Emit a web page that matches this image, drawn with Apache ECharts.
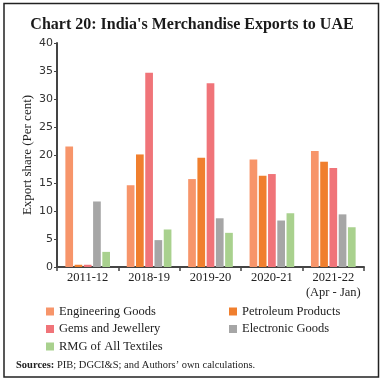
<!DOCTYPE html>
<html><head><meta charset="utf-8">
<script src="https://cdn.jsdelivr.net/npm/echarts@6/dist/echarts.min.js"></script>
<style>html,body{margin:0;padding:0;background:#fff}#c{width:384px;height:382px}</style>
</head><body><div id="c"></div>
<script>
const categories = ['2011-12', '2018-19', '2019-20', '2020-21', '2021-22\n(Apr - Jan)'];
const seriesNames = ['Engineering Goods', 'Petroleum Products', 'Gems and Jewellery', 'Electronic Goods', 'RMG of All Textiles'];
const engineering = [21.5, 14.6, 15.7, 19.2, 20.7];
const petroleum = [0.4, 20.1, 19.5, 16.3, 18.8];
const gems = [0.4, 34.7, 32.8, 16.6, 17.7];
const electronic = [11.7, 4.8, 8.7, 8.3, 9.4];
const rmg = [2.7, 6.7, 6.1, 9.6, 7.1];
const yTicks = [0, 5, 10, 15, 20, 25, 30, 35, 40];
const colors = ['#F7956A', '#F07F2E', '#F07479', '#A6A6A6', '#A9D18E'];
const values = [engineering, petroleum, gems, electronic, rmg];

const serif = 'Liberation Serif';
const chart = echarts.init(document.getElementById('c'), null, {renderer: 'canvas'});
const legendCommon = {
  orient: 'vertical', itemWidth: 8, itemHeight: 8, itemGap: 4.5, icon: 'rect',
  textStyle: {fontFamily: serif, fontSize: 12.5, color: '#222'},
  selectedMode: false
};
chart.setOption({
  animation: false,
  title: {
    text: "Chart 20: India's Merchandise Exports to UAE",
    left: 'center', top: 12,
    textStyle: {fontFamily: serif, fontWeight: 'bold', fontSize: 16, color: '#1a1a1a'}
  },
  graphic: [
    {type: 'rect', shape: {x: 4, y: 3.5, width: 374.5, height: 373.5}, style: {fill: 'none', stroke: '#222', lineWidth: 1.5}, silent: true},
    {type: 'text', left: 16, top: 360, style: {
      text: '{b|Sources:} PIB; DGCI&S; and Authors\u2019 own calculations.',
      rich: {b: {fontFamily: serif, fontWeight: 'bold', fontSize: 10.5, fill: '#222'}},
      fontFamily: serif, fontSize: 10.5, fill: '#222'}}
  ],
  legend: [
    Object.assign({left: 41, top: 300, data: [seriesNames[0], seriesNames[2], seriesNames[4]]}, legendCommon),
    Object.assign({left: 224, top: 300, data: [seriesNames[1], seriesNames[3]]}, legendCommon)
  ],
  grid: {left: 57, right: 20, top: 43, bottom: 115, containLabel: false},
  xAxis: {
    type: 'category', data: categories,
    axisLine: {lineStyle: {color: '#444', width: 2}},
    axisTick: {show: true, length: 4, lineStyle: {color: '#444', width: 1.5}},
    axisLabel: {interval: 0, fontFamily: serif, fontSize: 12.5, color: '#222', margin: 3, lineHeight: 15}
  },
  yAxis: {
    type: 'value', min: yTicks[0], max: yTicks[yTicks.length - 1], interval: 5,
    name: 'Export share (Per cent)', nameLocation: 'middle', nameGap: 23, nameMoveOverlap: false,
    nameTextStyle: {fontFamily: serif, fontSize: 13, color: '#222'},
    splitLine: {show: false},
    axisLine: {show: true, lineStyle: {color: '#444', width: 2}},
    axisTick: {show: true, length: 3, lineStyle: {color: '#444', width: 1}},
    axisLabel: {fontFamily: 'DejaVu Sans', fontSize: 11, color: '#333', margin: 4}
  },
  series: seriesNames.map((n, i) => ({
    name: n, type: 'bar', data: values[i], barWidth: 7.7, barGap: '20%',
    itemStyle: {color: colors[i]}
  }))
});
</script></body></html>
